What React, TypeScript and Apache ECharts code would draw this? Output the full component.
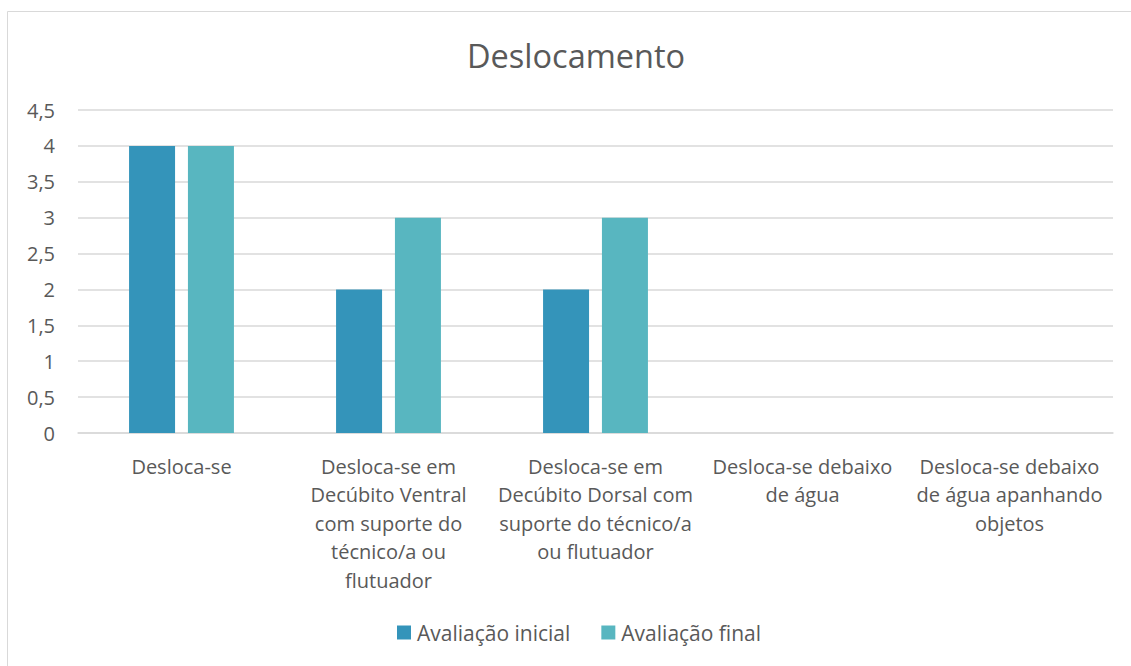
import React, { useEffect, useRef } from "react";
import * as echarts from "echarts";

const title = "Deslocamento";
const categories = [
  "Desloca-se",
  "Desloca-se em\nDecúbito Ventral\ncom suporte do\ntécnico/a ou\nflutuador",
  "Desloca-se em\nDecúbito Dorsal com\nsuporte do técnico/a\nou flutuador",
  "Desloca-se debaixo\nde água",
  "Desloca-se debaixo\nde água apanhando\nobjetos",
];
const seriesNames = ["Avaliação inicial", "Avaliação final"];
const inicial = [4, 2, 2, 0, 0];
const final = [4, 3, 3, 0, 0];
const colors = ["#3494BA", "#58B6C0"];

export default function App() {
  const ref = useRef<HTMLDivElement>(null);
  useEffect(() => {
    if (!ref.current) return;
    const chart = echarts.init(ref.current, undefined, { renderer: "svg" });
    const font = "'Open Sans', sans-serif";
    chart.setOption({
      animation: false,
      textStyle: { fontFamily: font },
      graphic: [
        {
          type: "rect",
          shape: { x: 7.5, y: 11.5, width: 1200, height: 800 },
          style: { fill: "none", stroke: "#D9D9D9", lineWidth: 1 },
          silent: true,
        },
      ],
      title: {
        text: title,
        left: 462,
        top: 34,
        textStyle: { fontFamily: font, fontSize: 32.5, fontWeight: "normal", color: "#595959" },
      },
      legend: {
        bottom: 18,
        left: 392,
        itemWidth: 14,
        itemHeight: 14,
        itemGap: 31,
        icon: "rect",
        textStyle: { fontFamily: font, fontSize: 21, color: "#595959", padding: [0, 0, 0, 1] },
        data: seriesNames,
      },
      grid: { left: 78, right: 18, top: 110, bottom: 233, containLabel: false },
      xAxis: {
        type: "category",
        data: categories,
        axisLine: { show: true, lineStyle: { color: "#D9D9D9", width: 1.5 } },
        axisTick: { show: false },
        axisLabel: {
          interval: 0,
          margin: 19,
          fontFamily: font,
          fontSize: 20,
          lineHeight: 28.5,
          color: "#595959",
          align: "center",
        },
      },
      yAxis: {
        type: "value",
        min: 0,
        max: 4.5,
        interval: 0.5,
        axisLine: { show: false },
        axisTick: { show: false },
        splitLine: { lineStyle: { color: "#D9D9D9", width: 1.5 } },
        axisLabel: {
          margin: 23,
          fontFamily: font,
          fontSize: 20,
          color: "#595959",
          formatter: (v: number) => String(v).replace(".", ","),
        },
      },
      series: [
        {
          name: seriesNames[0],
          type: "bar",
          data: inicial,
          barWidth: 46,
          barGap: "28%",
          itemStyle: { color: colors[0] },
        },
        {
          name: seriesNames[1],
          type: "bar",
          data: final,
          barWidth: 46,
          barGap: "28%",
          itemStyle: { color: colors[1] },
        },
      ],
    });
    return () => chart.dispose();
  }, []);
  return <div ref={ref} style={{ width: 1131, height: 666, position: "absolute", left: 0, top: 0 }} />;
}
